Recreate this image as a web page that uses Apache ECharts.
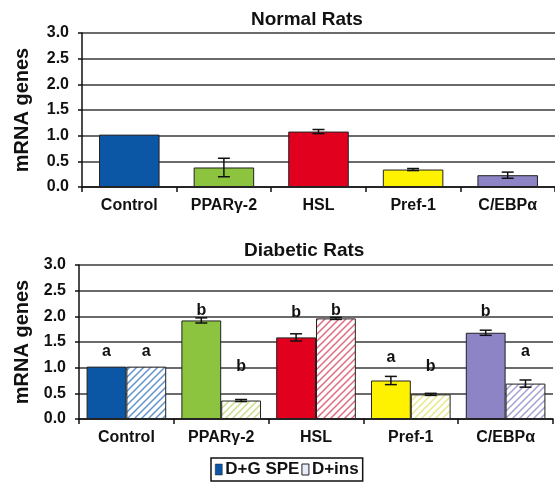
<!DOCTYPE html>
<html>
<head>
<meta charset="utf-8">
<script src="https://cdn.jsdelivr.net/npm/echarts@6/dist/echarts.min.js"></script>
<style>
html,body{margin:0;padding:0;background:#fff;}
#chart{width:555px;height:483px;}
</style>
</head>
<body>
<div id="chart"></div>
<script>
// ---- data ----
var categories = ['Control', 'PPAR\u03b3-2', 'HSL', 'Pref-1', 'C/EBP\u03b1'];
var yTicks = [0, 0.5, 1.0, 1.5, 2.0, 2.5, 3.0];

var normalValues = [1.02, 0.38, 1.08, 0.34, 0.23];
var normalErrors = [0, 0.18, 0.04, 0.02, 0.06];

var speValues = [1.02, 1.92, 1.59, 0.75, 1.68];
var speErrors = [0, 0.05, 0.07, 0.08, 0.05];
var insValues = [1.02, 0.36, 1.96, 0.48, 0.69];
var insErrors = [0, 0.02, 0.02, 0.02, 0.07];

var speLetters = ['a', 'b', 'b', 'a', 'b'];
var speLetterAt = [1.22, 2.02, 1.97, 1.09, 2.00];
var insLetters = ['a', 'b', 'b', 'b', 'a'];
var insLetterAt = [1.22, 0.92, 2.02, 0.92, 1.22];

var seriesNames = ['D+G SPE', 'D+ins'];

// ---- styles ----
var solidColors = ['#0b57a6', '#8cc43f', '#e1001e', '#fff200', '#8c84c4'];
var hatchColors = ['#6393cf', '#cadd8c', '#e26b7e', '#e8e88a', '#a4a0d4'];
var FONT = "'Liberation Sans', Arial, Helvetica, sans-serif";

function hatch(color) {
  var s = 7;
  var c = document.createElement('canvas');
  c.width = s; c.height = s;
  var g = c.getContext('2d');
  g.fillStyle = '#ffffff';
  g.fillRect(0, 0, s, s);
  g.strokeStyle = color;
  g.lineWidth = 1.5;
  g.beginPath();
  g.moveTo(-1, s + 1); g.lineTo(s + 1, -1);
  g.moveTo(-2, 2); g.lineTo(2, -2);
  g.moveTo(s - 2, s + 2); g.lineTo(s + 2, s - 2);
  g.stroke();
  return { image: c, repeat: 'repeat' };
}

var chart = echarts.init(document.getElementById('chart'), null, { renderer: 'canvas' });

function yAxisDef(gridIndex, gap) {
  return {
    type: 'value', gridIndex: gridIndex, min: yTicks[0], max: yTicks[yTicks.length - 1], interval: 0.5,
    name: 'mRNA genes', nameLocation: 'middle', nameGap: gap,
    nameTextStyle: { fontFamily: FONT, fontWeight: 'bold', fontSize: 20, color: '#111' },
    axisLine: { show: true, lineStyle: { color: '#111', width: 1.5 } },
    axisTick: { show: true, length: 4, lineStyle: { color: '#111', width: 1.5 } },
    axisLabel: { margin: 13, fontFamily: FONT, fontWeight: 'bold', fontSize: 16, color: '#111',
      formatter: function (v) { return v.toFixed(1); } },
    splitLine: { show: true, lineStyle: { color: '#3a3a3a', width: 1.5 } }
  };
}
function xAxisDef(gridIndex) {
  return {
    type: 'category', gridIndex: gridIndex, data: categories,
    axisLine: { show: true, lineStyle: { color: '#111', width: 1.5 } },
    axisTick: { show: true, length: 5, lineStyle: { color: '#111', width: 1.5 } },
    axisLabel: { margin: 11, fontFamily: FONT, fontWeight: 'bold', fontSize: 16, color: '#111' }
  };
}

function errorSeries(axisIdx, values, errors, fraction, sign) {
  return {
    type: 'custom', xAxisIndex: axisIdx, yAxisIndex: axisIdx, z: 5, silent: true,
    data: values.map(function (v, i) { return [i, v, errors[i]]; }),
    renderItem: function (params, api) {
      var err = api.value(2);
      if (!err) return null;
      var v = api.value(1);
      var band = api.size([1, 0])[0];
      var dx = sign * band * fraction / 2;
      var hi = api.coord([api.value(0), v + err]);
      var lo = api.coord([api.value(0), v - err]);
      var x = hi[0] + dx;
      var cap = 6;
      var st = { stroke: '#111', lineWidth: 1.5 };
      return { type: 'group', children: [
        { type: 'line', shape: { x1: x, y1: hi[1], x2: x, y2: lo[1] }, style: st },
        { type: 'line', shape: { x1: x - cap, y1: hi[1], x2: x + cap, y2: hi[1] }, style: st },
        { type: 'line', shape: { x1: x - cap, y1: lo[1], x2: x + cap, y2: lo[1] }, style: st }
      ] };
    }
  };
}

function letterSeries(axisIdx, letters, at, fraction, sign) {
  return {
    type: 'custom', xAxisIndex: axisIdx, yAxisIndex: axisIdx, z: 6, silent: true,
    data: at.map(function (v, i) { return [i, v]; }),
    renderItem: function (params, api) {
      var band = api.size([1, 0])[0];
      var p = api.coord([api.value(0), api.value(1)]);
      return { type: 'text', style: {
        text: letters[params.dataIndex], x: p[0] + sign * band * fraction / 2, y: p[1] + 3,
        align: 'center', verticalAlign: 'bottom',
        font: 'bold 16px ' + FONT, fill: '#111' } };
    }
  };
}

var option = {
  animation: false,
  backgroundColor: '#ffffff',
  textStyle: { fontFamily: FONT },
  title: [
    { text: 'Normal Rats', left: 251, top: 10, padding: 0,
      textStyle: { fontFamily: FONT, fontWeight: 'bold', fontSize: 19, color: '#111' } },
    { text: 'Diabetic Rats', left: 244, top: 241, padding: 0,
      textStyle: { fontFamily: FONT, fontWeight: 'bold', fontSize: 19, color: '#111' } }
  ],
  legend: {
    left: 211, top: 458, orient: 'horizontal',
    padding: [3, 4], itemGap: 2, itemWidth: 7, itemHeight: 11,
    borderColor: '#111', borderWidth: 1.5,
    selectedMode: false,
    textStyle: { fontFamily: FONT, fontWeight: 'bold', fontSize: 17, color: '#111', padding: [0, 0, 0, -2] },
    data: [
      { name: seriesNames[0], icon: 'rect', itemStyle: { color: solidColors[0], borderColor: '#222', borderWidth: 0.5 } },
      { name: seriesNames[1], icon: 'rect', itemStyle: { color: '#e6edf7', borderColor: '#222', borderWidth: 1 } }
    ]
  },
  grid: [
    { left: 82, right: -5, top: 33, height: 154, containLabel: false },
    { left: 79, right: 2, top: 265, height: 154, containLabel: false }
  ],
  xAxis: [xAxisDef(0), xAxisDef(1)],
  yAxis: [yAxisDef(0, 50), yAxisDef(1, 46)],
  series: [
    {
      name: 'Normal', type: 'bar', xAxisIndex: 0, yAxisIndex: 0, barWidth: '64%',
      data: normalValues.map(function (v, i) {
        return { value: v, itemStyle: { color: solidColors[i] } };
      }),
      itemStyle: { borderColor: '#222', borderWidth: 1 }
    },
    errorSeries(0, normalValues, normalErrors, 0, 0),
    {
      name: seriesNames[0], type: 'bar', xAxisIndex: 1, yAxisIndex: 1, barWidth: '42%', barGap: '0%',
      data: speValues.map(function (v, i) {
        return { value: v, itemStyle: { color: solidColors[i] } };
      }),
      itemStyle: { color: solidColors[0], borderColor: '#222', borderWidth: 1 }
    },
    {
      name: seriesNames[1], type: 'bar', xAxisIndex: 1, yAxisIndex: 1, barWidth: '42%', barGap: '0%',
      data: insValues.map(function (v, i) {
        return { value: v, itemStyle: { color: hatch(hatchColors[i]) } };
      }),
      itemStyle: { color: '#e6edf7', borderColor: '#222', borderWidth: 1 }
    },
    errorSeries(1, speValues, speErrors, 0.42, -1),
    errorSeries(1, insValues, insErrors, 0.42, 1),
    letterSeries(1, speLetters, speLetterAt, 0.42, -1),
    letterSeries(1, insLetters, insLetterAt, 0.42, 1)
  ]
};
chart.setOption(option);
</script>
</body>
</html>
